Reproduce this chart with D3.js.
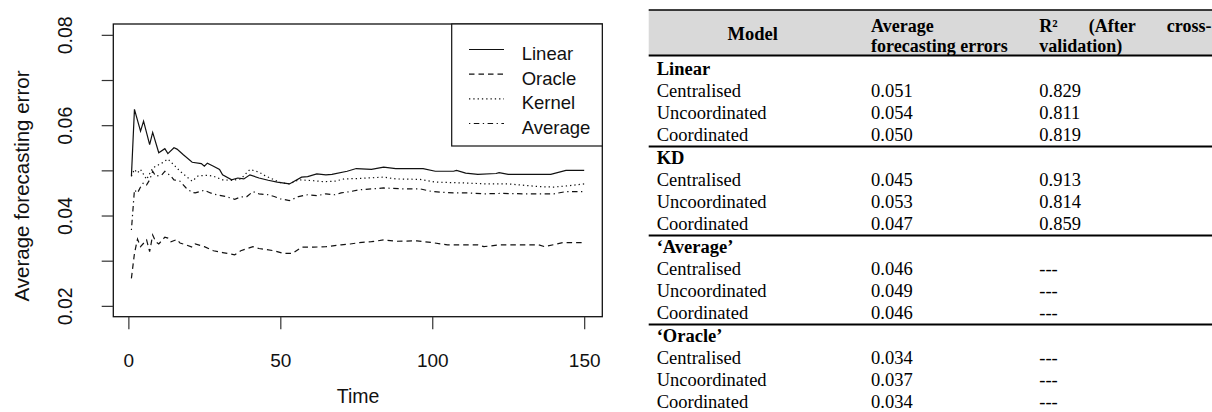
<!DOCTYPE html>
<html>
<head>
<meta charset="utf-8">
<script src="https://cdn.jsdelivr.net/npm/d3@7"></script>
<style>
  html, body { margin: 0; padding: 0; background: #fff; }
  svg { display: block; }
</style>
</head>
<body>
<svg id="chart" width="1212" height="412"></svg>
<script>
// ---------- Chart data ----------
const linearT = [1,2,4,5,7,8,10,12,13,15,16,18,21,24,25,26,28,30,31,34,36,38,40,43,46,49,53,57,59,62,65,67,72,75,80,84,88,97,101,107,108,111,115,121,122,125,139,144,150];
const linearV = [0.0487,0.0635,0.0587,0.0609,0.0557,0.0584,0.0539,0.0548,0.0537,0.0550,0.0547,0.0535,0.0518,0.0515,0.0509,0.0516,0.0509,0.0502,0.0490,0.0479,0.0483,0.0481,0.0490,0.0483,0.0478,0.0474,0.0470,0.0485,0.0486,0.0492,0.0490,0.0491,0.0498,0.0504,0.0502,0.0507,0.0504,0.0504,0.0498,0.0498,0.0500,0.0494,0.0491,0.0493,0.0495,0.0491,0.0491,0.0500,0.0500];

const oracleT = [1,2,3,4,6,7,8,9,10,12,13,14,16,17,19,21,22,25,28,31,35,37,41,43,48,51,54,57,61,65,70,73,76,80,84,88,95,100,105,115,117,122,135,137,143,150];
const oracleV = [0.0261,0.0316,0.0348,0.0331,0.0346,0.0320,0.0357,0.0342,0.0337,0.0352,0.0350,0.0342,0.0347,0.0339,0.0335,0.0330,0.0337,0.0331,0.0322,0.0318,0.0313,0.0322,0.0331,0.0327,0.0322,0.0316,0.0316,0.0330,0.0330,0.0331,0.0335,0.0337,0.0340,0.0342,0.0346,0.0343,0.0344,0.0340,0.0335,0.0335,0.0331,0.0335,0.0335,0.0331,0.0340,0.0340];

const kernelT = [1,2,3,4,6,8,9,11,13,15,17,19,21,23,26,28,31,34,37,40,43,45,48,50,53,56,61,64,68,71,76,84,88,96,101,111,118,125,135,140,145,150];
const kernelV = [0.0487,0.0502,0.0494,0.0502,0.0480,0.0505,0.0509,0.0516,0.0525,0.0512,0.0498,0.0487,0.0476,0.0488,0.0489,0.0487,0.0479,0.0478,0.0481,0.0502,0.0496,0.0488,0.0479,0.0473,0.0470,0.0479,0.0477,0.0475,0.0476,0.0481,0.0482,0.0485,0.0481,0.0480,0.0474,0.0472,0.0470,0.0470,0.0464,0.0463,0.0466,0.0470];

const averageT = [1,2,3,4,5,6,7,8,9,11,12,14,15,17,19,21,22,25,27,29,32,35,37,39,41,43,46,48,50,53,56,59,62,65,68,70,73,76,80,84,90,96,100,107,112,117,123,130,140,144,150];
const averageV = [0.0368,0.0457,0.0450,0.0463,0.0473,0.0468,0.0479,0.0498,0.0487,0.0490,0.0498,0.0487,0.0479,0.0476,0.0461,0.0451,0.0450,0.0456,0.0450,0.0446,0.0442,0.0436,0.0441,0.0442,0.0453,0.0448,0.0446,0.0442,0.0437,0.0433,0.0442,0.0446,0.0444,0.0448,0.0446,0.0450,0.0453,0.0457,0.0459,0.0461,0.0459,0.0459,0.0453,0.0450,0.0450,0.0448,0.0449,0.0448,0.0448,0.0453,0.0453];

const seriesNames = ["Linear", "Oracle", "Kernel", "Average"];
const xTicks = [0, 50, 100, 150];
const yTicks = [0.02, 0.03, 0.04, 0.05, 0.06, 0.07, 0.08];
const yTickLabels = ["0.02", "", "0.04", "", "0.06", "", "0.08"];
const xTitle = "Time";
const yTitle = "Average forecasting error";

// ---------- Table data ----------
const headerModel = "Model";
const headerErrorLines = [["Average"], ["forecasting", "errors"]];
const headerR2Lines = [["R²", "(After", "cross-"], ["validation)"]];
const groupNames = ["Linear", "KD", "‘Average’", "‘Oracle’"];
const methodNames = ["Centralised", "Uncoordinated", "Coordinated"];
const avgErrors = [[0.051, 0.054, 0.050], [0.045, 0.053, 0.047], [0.046, 0.049, 0.046], [0.034, 0.037, 0.034]];
const rSquared = [[0.829, 0.811, 0.819], [0.913, 0.814, 0.859], [null, null, null], [null, null, null]];

// ---------- Drawing ----------
const svg = d3.select("#chart");
const SANS = "'Liberation Sans', Arial, Helvetica, sans-serif";
const SERIF = "'Liberation Serif', 'Times New Roman', Times, serif";

const box = { left: 113.3, right: 602.3, top: 24, bottom: 316.7 };
const x = d3.scaleLinear().domain([-4.96, 155.96]).range([box.left, box.right]);
const y = d3.scaleLinear().domain([0.0176, 0.0824]).range([box.bottom, box.top]);

const dashes = ["none", "5.5,4", "1.3,3", "1.3,3.5,5.5,3.5"];
const series = [
  { name: seriesNames[0], t: linearT, v: linearV, dash: dashes[0] },
  { name: seriesNames[1], t: oracleT, v: oracleV, dash: dashes[1] },
  { name: seriesNames[2], t: kernelT, v: kernelV, dash: dashes[2] },
  { name: seriesNames[3], t: averageT, v: averageV, dash: dashes[3] }
];

const line = d3.line().x(d => x(d[0])).y(d => y(d[1]));
const plot = svg.append("g");
series.forEach(s => {
  plot.append("path")
    .attr("d", line(d3.zip(s.t, s.v)))
    .attr("fill", "none")
    .attr("stroke", "#111")
    .attr("stroke-width", 1.2)
    .attr("stroke-dasharray", s.dash);
});

// Box
svg.append("rect")
  .attr("x", box.left).attr("y", box.top)
  .attr("width", box.right - box.left).attr("height", box.bottom - box.top)
  .attr("fill", "none").attr("stroke", "#111").attr("stroke-width", 1.3);

// X axis
const xAxis = d3.axisBottom(x).tickValues(xTicks).tickSize(12.5).tickPadding(23).tickFormat(d3.format("d"));
const gx = svg.append("g").attr("transform", `translate(0,${box.bottom})`).call(xAxis);
gx.select(".domain").remove();
gx.selectAll(".tick line").attr("stroke", "#333").attr("stroke-width", 1.2);
gx.selectAll(".tick text").attr("font-family", SANS).attr("font-size", 19).attr("fill", "#111")
  .attr("dy", null).attr("y", 50.3);

// Y axis
const yAxis = d3.axisLeft(y).tickValues(yTicks).tickSize(11.6).tickFormat((d, i) => yTickLabels[i]);
const gy = svg.append("g").attr("transform", `translate(${box.left},0)`).call(yAxis);
gy.select(".domain").remove();
gy.selectAll(".tick line").attr("stroke", "#333").attr("stroke-width", 1.2);
gy.selectAll(".tick text")
  .attr("font-family", SANS).attr("font-size", 19.5).attr("fill", "#111")
  .attr("x", null).attr("dy", null).attr("y", null)
  .attr("text-anchor", "middle")
  .attr("transform", "translate(-41.8,0) rotate(-90)");

// Axis titles
svg.append("text").attr("x", 358).attr("y", 403)
  .attr("text-anchor", "middle").attr("font-family", SANS).attr("font-size", 19.5).attr("fill", "#111")
  .text(xTitle);
svg.append("text").attr("transform", "translate(28.5,186) rotate(-90)")
  .attr("text-anchor", "middle").attr("font-family", SANS).attr("font-size", 20.5).attr("fill", "#111")
  .text(yTitle);

// Legend
const lg = { left: 451.7, top: 24, bottom: 146, right: box.right };
svg.append("rect").attr("x", lg.left).attr("y", lg.top)
  .attr("width", lg.right - lg.left).attr("height", lg.bottom - lg.top)
  .attr("fill", "#fff").attr("stroke", "#111").attr("stroke-width", 1.2);
const legendRowY = d3.scalePoint().domain(seriesNames).range([49.5, 123.5]);
series.forEach(s => {
  const ry = legendRowY(s.name);
  svg.append("line").attr("x1", 469).attr("x2", 504).attr("y1", ry).attr("y2", ry)
    .attr("stroke", "#111").attr("stroke-width", 1.2).attr("stroke-dasharray", s.dash);
  svg.append("text").attr("x", 521.7).attr("y", ry + 10.5)
    .attr("font-family", SANS).attr("font-size", 18.5).attr("fill", "#111")
    .text(s.name);
});

// ---------- Table ----------
const tb = { left: 648.7, right: 1212, top: 10, headBottom: 55.5 };
const colX = [656.7, 871, 1039.3];
const colRight = [860, 1028.3, 1211.5];
const FS = 18.5;
const HFS = 18;
const tg = svg.append("g").attr("font-family", SERIF).attr("font-size", FS).attr("fill", "#000");

tg.append("rect").attr("x", tb.left).attr("y", tb.top).attr("width", tb.right - tb.left)
  .attr("height", tb.headBottom - tb.top).attr("fill", "#d9d9d9");
tg.append("line").attr("x1", tb.left).attr("x2", tb.right).attr("y1", tb.top).attr("y2", tb.top)
  .attr("stroke", "#000").attr("stroke-width", 1.5);
tg.append("line").attr("x1", tb.left).attr("x2", tb.right).attr("y1", tb.headBottom).attr("y2", tb.headBottom)
  .attr("stroke", "#000").attr("stroke-width", 2.2);

// headers
tg.append("text").attr("x", 752.7).attr("y", 40).attr("text-anchor", "middle").attr("font-weight", "bold")
  .attr("font-size", 18.5).text(headerModel);

// multi-line header cell; first line of the R² header is justified across its column
const headLineY = [32.2, 52.2];
function headerCell(lines, left, right, justifyLines) {
  lines.forEach((words, li) => {
    const t = tg.append("text").attr("font-weight", "bold").attr("font-size", HFS)
      .attr("x", left).attr("y", headLineY[li]);
    if (justifyLines[li] && words.length > 1) {
      const spans = words.map(w => t.append("tspan").attr("y", headLineY[li]).text(w));
      const widths = spans.map(s => s.node().getComputedTextLength());
      const gap = (right - left - d3.sum(widths)) / (words.length - 1);
      let cx = left;
      spans.forEach((s, i) => { s.attr("x", cx); cx += widths[i] + gap; });
    } else {
      t.text(words.join(" "));
    }
  });
}
headerCell(headerErrorLines, colX[1], colRight[1], [false, false]);
headerCell(headerR2Lines, colX[2], colRight[2], [true, false]);

// body rows
const rowStep = 22;
const groupStep = 89;
const firstRow = 75;
groupNames.forEach((g, gi) => {
  const gy0 = firstRow + gi * groupStep;
  tg.append("text").attr("x", colX[0]).attr("y", gy0).attr("font-weight", "bold").text(g);
  methodNames.forEach((m, mi) => {
    const ry = gy0 + (mi + 1) * rowStep;
    tg.append("text").attr("x", colX[0]).attr("y", ry).text(m);
    tg.append("text").attr("x", colX[1]).attr("y", ry).text(avgErrors[gi][mi].toFixed(3));
    const r = rSquared[gi][mi];
    tg.append("text").attr("x", colX[2]).attr("y", ry).text(r === null ? "---" : r.toFixed(3));
  });
  if (gi < groupNames.length - 1) {
    const ly = gy0 + 3 * rowStep + 5.5;
    tg.append("line").attr("x1", tb.left).attr("x2", tb.right).attr("y1", ly).attr("y2", ly)
      .attr("stroke", "#000").attr("stroke-width", 2.2);
  }
});
</script>
</body>
</html>
